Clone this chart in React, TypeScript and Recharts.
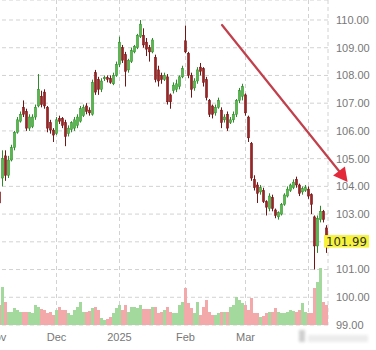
import React from "react";
import { ComposedChart, Bar, XAxis, YAxis, CartesianGrid, ReferenceLine, Cell } from "recharts";

const dates = [
  "Nov 4","Nov 5","Nov 6","Nov 7","Nov 8","Nov 11","Nov 12","Nov 13","Nov 14","Nov 15","Nov 18","Nov 19","Nov 20","Nov 21","Nov 22","Nov 25","Nov 26","Nov 27","Nov 28","Nov 29",
  "Dec 2","Dec 3","Dec 4","Dec 5","Dec 6","Dec 9","Dec 10","Dec 11","Dec 12","Dec 13","Dec 16","Dec 17","Dec 18","Dec 19","Dec 20","Dec 23","Dec 24","Dec 26","Dec 27","Dec 30","Dec 31",
  "Jan 2","Jan 3","Jan 6","Jan 7","Jan 8","Jan 9","Jan 10","Jan 13","Jan 14","Jan 15","Jan 16","Jan 17","Jan 20","Jan 21","Jan 22","Jan 23","Jan 24","Jan 27","Jan 28","Jan 29","Jan 30","Jan 31",
  "Feb 3","Feb 4","Feb 5","Feb 6","Feb 7","Feb 10","Feb 11","Feb 12","Feb 13","Feb 14","Feb 17","Feb 18","Feb 19","Feb 20","Feb 21","Feb 24","Feb 25","Feb 26","Feb 27","Feb 28",
  "Mar 3","Mar 4","Mar 5","Mar 6","Mar 7","Mar 10","Mar 11","Mar 12","Mar 13","Mar 14","Mar 17","Mar 18","Mar 19","Mar 20","Mar 21","Mar 24","Mar 25","Mar 26","Mar 27","Mar 28","Mar 31",
  "Apr 1","Apr 2","Apr 3","Apr 4","Apr 7","Apr 8","Apr 9",
];

const opens = [
  104.0,103.8,104.3,105.1,104.4,104.95,105.4,105.95,106.35,106.85,106.7,106.1,106.15,106.5,106.9,107.25,107.4,106.85,106.3,106.03,
  105.9,106.45,106.45,106.3,105.9,106.05,106.1,106.2,106.35,106.55,106.9,106.75,106.6,108.1,107.85,107.5,107.88,107.92,107.9,107.7,108.0,
  108.4,109.0,108.75,108.2,108.5,108.85,109.0,109.4,109.45,109.2,109.0,108.85,108.65,108.2,108.0,107.85,107.95,107.3,107.45,107.5,107.6,107.95,
  109.25,108.8,108.0,107.55,107.8,108.3,108.25,107.85,107.1,106.9,106.65,106.85,106.75,106.4,106.6,106.3,106.4,106.6,107.1,107.25,
  107.3,106.5,105.55,104.25,104.05,103.8,103.85,103.45,103.2,103.6,103.15,102.9,103.0,103.35,103.65,103.85,103.95,104.25,104.05,103.8,103.85,
  103.9,103.7,102.9,101.85,102.8,103.1,102.5,
];
const highs = [
  104.1,103.9,105.3,105.3,105.1,105.5,106.0,106.5,106.7,107.1,106.8,106.6,106.6,106.95,108.05,107.45,107.5,106.9,106.4,106.1,
  106.5,106.55,106.5,106.4,106.2,106.35,106.5,106.6,106.9,106.95,107.0,106.85,107.85,108.2,107.95,107.9,108.0,108.0,108.0,108.1,108.5,
  109.4,109.1,108.85,108.6,109.0,109.1,109.5,110.0,109.7,109.35,109.1,109.35,108.75,108.35,108.1,108.1,108.05,107.35,107.75,107.85,108.0,108.35,
  109.8,108.85,108.1,107.9,108.3,108.45,108.3,107.95,107.15,106.95,106.95,107.2,106.85,106.6,106.7,106.5,106.7,107.15,107.55,107.7,
  107.35,106.55,105.6,104.4,104.15,104.05,103.95,103.5,103.75,103.7,103.2,103.1,103.4,103.75,104.0,104.1,104.25,104.35,104.1,104.0,104.05,
  104.0,103.75,102.95,102.95,103.3,103.15,102.6,
];
const lows = [
  103.6,103.3,104.0,104.2,104.3,104.9,105.3,105.9,106.3,106.5,106.0,106.0,106.1,106.4,106.85,106.85,106.8,105.95,105.9,105.6,
  105.85,106.25,106.1,105.45,105.8,105.95,106.0,106.1,106.3,106.5,106.6,106.55,106.55,107.3,107.3,107.4,107.8,107.75,107.7,107.65,107.95,
  108.3,108.45,107.6,108.1,108.45,108.8,108.95,109.35,109.0,108.7,108.5,108.8,107.75,107.6,107.7,107.8,106.95,106.8,107.35,107.4,107.5,107.9,
  108.8,107.9,107.2,107.45,107.7,108.0,107.6,107.1,106.5,106.45,106.55,106.8,106.1,106.3,106.0,106.25,106.3,106.5,107.0,107.1,
  106.55,105.6,104.2,103.85,103.4,103.7,103.4,102.95,103.1,103.1,102.85,102.8,102.95,103.3,103.6,103.8,103.9,103.95,103.65,103.7,103.8,
  103.55,103.0,101.0,101.6,102.7,102.7,101.6,
];
const closes = [
  103.8,103.4,105.0,104.4,104.95,105.4,105.95,106.4,106.6,106.6,106.1,106.5,106.5,106.85,107.5,106.95,106.9,106.1,106.03,105.85,
  106.4,106.35,106.2,105.8,106.1,106.3,106.4,106.5,106.8,106.85,106.7,106.65,107.75,107.4,107.5,107.8,107.92,107.86,107.75,108.0,108.4,
  109.2,108.55,108.15,108.55,108.9,109.05,109.45,109.85,109.1,108.95,108.85,109.28,107.85,107.8,107.85,108.0,107.05,107.05,107.65,107.7,107.95,108.25,
  108.85,108.0,107.5,107.8,108.2,108.15,107.75,107.2,106.6,106.6,106.85,107.1,106.3,106.5,106.1,106.4,106.6,107.1,107.45,107.6,
  106.65,105.75,104.3,103.95,103.75,103.95,103.45,103.25,103.65,103.2,102.95,103.05,103.35,103.69,103.9,104.05,104.15,104.05,103.75,103.92,103.95,
  103.65,103.35,101.85,102.85,103.1,102.8,101.99,
];
const volumes = [
  15,20,38,23,13,13,17,15,13,13,13,13,12,20,18,16,15,12,13,10,
  15,18,15,15,12,10,15,18,23,13,13,14,17,18,15,7,5,6,8,12,17,
  20,15,20,13,18,18,17,20,16,16,16,18,18,12,13,15,18,13,12,12,20,23,
  37,22,17,12,23,10,18,25,13,10,10,12,13,13,13,18,20,28,25,22,
  20,15,27,12,12,8,9,12,13,13,17,13,12,12,13,15,14,13,15,22,13,
  12,12,37,43,57,23,20,
];

const monthTickDates = ["Nov 4", "Dec 2", "Jan 2", "Feb 3", "Mar 3", "Apr 1"];
const monthTickLabels = ["Nov", "Dec", "2025", "Feb", "Mar", ""];
const priceTicks = [99, 100, 101, 102, 103, 104, 105, 106, 107, 108, 109, 110];
const lastPrice = 101.99;

const data = dates.map((d, i) => ({
  d,
  o: opens[i],
  h: highs[i],
  l: lows[i],
  c: closes[i],
  range: [lows[i], highs[i]],
  v: volumes[i],
}));

const UP = "#55b94b";
const UP_EDGE = "#2f8a2a";
const DOWN = "#9c2424";
const DOWN_EDGE = "#741515";

const Candle = (props: any) => {
  let { x, y, width, height, payload } = props;
  if (height < 0) {
    y = y + height;
    height = -height;
  }
  const { o, h, l, c } = payload;
  const up = c >= o;
  const cx = x + width / 2;
  const span = h - l || 1;
  const ratio = height / span;
  const yOf = (v: number) => y + (h - v) * ratio;
  const top = yOf(Math.max(o, c));
  const bot = yOf(Math.min(o, c));
  const bw = 2.2;
  return (
    <g>
      <line x1={cx} x2={cx} y1={y} y2={y + height} stroke={up ? UP_EDGE : DOWN_EDGE} strokeWidth={1} />
      <rect
        x={cx - bw / 2}
        y={top}
        width={bw}
        height={Math.max(1, bot - top)}
        fill={up ? UP : DOWN}
        stroke={up ? UP_EDGE : DOWN_EDGE}
        strokeWidth={0.5}
      />
    </g>
  );
};

const PriceLabel = (props: any) => {
  const vb = props.viewBox || {};
  const right = vb.x + vb.width;
  const cy = vb.y;
  return (
    <g>
      <rect x={right - 4} y={cy - 7} width={45} height={12.5} fill="#f6f33a" />
      <text x={right - 2} y={cy + 4.3} fontSize={11.7} fontFamily="'DejaVu Sans', Verdana, sans-serif" fill="#333">
        {lastPrice.toFixed(2)}
      </text>
    </g>
  );
};

export default function App() {
  return (
    <div
      style={{
        position: "absolute",
        left: 0,
        top: 0,
        width: 376,
        height: 350,
        overflow: "hidden",
        background: "#fff",
        fontFamily: "Arial, 'Liberation Sans', sans-serif",
      }}
    >
      <div style={{ position: "absolute", left: -5, top: 0 }}>
        <ComposedChart
          width={381}
          height={350}
          data={data}
          margin={{ top: 0, right: 0, bottom: 0, left: 0 }}
          barCategoryGap={0}
          barGap={0}
        >
          <CartesianGrid
            xAxisId="p"
            yAxisId="price"
            stroke="#d2d2d2"
            strokeDasharray="4 3"
          />
          <XAxis
            xAxisId="p"
            dataKey="d"
            ticks={monthTickDates}
            interval={0}
            tickFormatter={(v: string) => monthTickLabels[monthTickDates.indexOf(v)] ?? ""}
            axisLine={false}
            tickLine={false}
            height={25}
            tick={{ fontSize: 11, fill: "#777" }}
          />
          <XAxis xAxisId="v" dataKey="d" hide />
          <YAxis
            yAxisId="price"
            orientation="right"
            domain={[99, 110.7213]}
            ticks={priceTicks}
            allowDataOverflow
            interval={0}
            axisLine={false}
            tickLine={false}
            width={48}
            tick={{ fontSize: 11, fill: "#777" }}
            tickFormatter={(v: number) => (v === 102 ? "" : v.toFixed(2))}
          />
          <YAxis yAxisId="vol" hide domain={[0, 325]} allowDataOverflow />
          <Bar xAxisId="v" yAxisId="vol" dataKey="v" isAnimationActive={false}>
            {data.map((e, i) => (
              <Cell key={i} fill={e.c >= e.o ? "#a3d99d" : "#f3a9a9"} />
            ))}
          </Bar>
          <Bar
            xAxisId="p"
            yAxisId="price"
            dataKey="range"
            shape={Candle}
            isAnimationActive={false}
          />
          <ReferenceLine
            xAxisId="p"
            yAxisId="price"
            y={lastPrice}
            stroke="none"
            strokeOpacity={0}
            label={PriceLabel}
          />
        </ComposedChart>
      </div>
      <svg
        width={376}
        height={350}
        style={{ position: "absolute", left: 0, top: 0, pointerEvents: "none" }}
      >
        <defs>
          <filter id="wm" x="-20%" y="-50%" width="140%" height="200%">
            <feGaussianBlur stdDeviation="1.6" />
          </filter>
        </defs>
        <g filter="url(#wm)">
          <rect x={299} y={330} width={6} height={12} fill="#cfcfcf" />
          <rect x={308} y={335} width={60} height={7} fill="#ececec" />
        </g>
        <line x1={222} y1={25} x2={339} y2={171} stroke="#c2404c" strokeWidth={2.2} strokeLinecap="round" />
        <polygon points="347.6,182 333.1,175.6 344.9,166.4" fill="#e3283a" />
      </svg>
    </div>
  );
}
